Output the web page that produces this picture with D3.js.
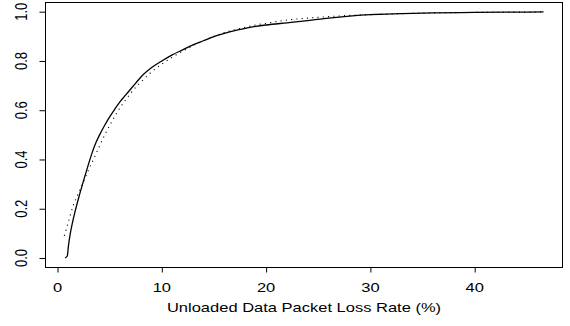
<!DOCTYPE html>
<html>
<head>
<meta charset="utf-8">
<script src="https://cdn.jsdelivr.net/npm/d3@7"></script>
<style>
  body { margin: 0; background: #fff; }
  text { font-family: "Liberation Sans", Arial, Helvetica, sans-serif; fill: #000; }
</style>
</head>
<body>
<script>
// observed distribution (solid)
const solidX = [0.72, 0.94, 1.04, 1.2, 1.42, 1.68, 2.06, 2.47, 2.95, 3.34, 3.7, 4.0, 4.5, 5.0, 5.5, 6.0, 6.5, 7.0, 7.5, 8, 9, 10, 11, 12, 13, 14, 15, 16, 17, 18, 19, 20, 22, 24, 26, 28, 30, 33, 36, 40, 43, 46.6];
const solidP = [0, 0.008, 0.046, 0.093, 0.141, 0.188, 0.249, 0.31, 0.378, 0.43, 0.47, 0.497, 0.537, 0.573, 0.605, 0.635, 0.66, 0.685, 0.71, 0.735, 0.772, 0.8, 0.825, 0.845, 0.865, 0.882, 0.899, 0.912, 0.923, 0.932, 0.94, 0.946, 0.955, 0.964, 0.974, 0.982, 0.988, 0.992, 0.995, 0.997, 0.998, 0.999];
// fitted distribution (dotted)
const dottedX = [0.65, 1.0, 1.5, 2, 2.5, 3, 3.5, 4, 4.5, 5, 5.5, 6, 6.5, 7, 7.5, 8, 9, 10, 11, 12, 13, 14, 15, 16, 17, 18, 19, 20, 22, 24, 26, 28, 30, 33, 36, 40, 43, 46.6];
const dottedP = [0.09, 0.14, 0.212, 0.262, 0.31, 0.36, 0.405, 0.452, 0.497, 0.538, 0.576, 0.61, 0.64, 0.668, 0.693, 0.715, 0.755, 0.787, 0.815, 0.84, 0.862, 0.882, 0.9, 0.915, 0.927, 0.937, 0.946, 0.953, 0.966, 0.974, 0.98, 0.985, 0.988, 0.992, 0.995, 0.997, 0.998, 0.999];

const xTicks = [0, 10, 20, 30, 40];
const yTicks = [0, 0.2, 0.4, 0.6, 0.8, 1.0];
const xTitle = "Unloaded Data Packet Loss Rate (%)";

const w = 570, h = 326;
const box = {left: 45.5, top: 2.5, right: 562.5, bottom: 267.5};
const stretch = 1.27; // text is wider than tall in the picture
const fs = 13;

const svg = d3.select("body")
  .append("svg")
  .attr("width", w)
  .attr("height", h);

const xScale = d3.scaleLinear().domain([0, 40]).range([57.5, 474.7]);
const yScale = d3.scaleLinear().domain([0, 1]).range([258, 11.7]);

// plot frame
svg.append("rect")
  .attr("x", box.left)
  .attr("y", box.top)
  .attr("width", box.right - box.left)
  .attr("height", box.bottom - box.top)
  .attr("fill", "none")
  .attr("stroke", "#000")
  .attr("stroke-width", 1);

// axes (ticks only, labels added below)
svg.append("g")
  .attr("transform", "translate(0," + box.bottom + ")")
  .call(d3.axisBottom(xScale).tickValues(xTicks).tickSize(5).tickFormat(""))
  .call(g => g.select(".domain").attr("d", "M" + xScale(0) + ",0H" + xScale(40)));

svg.append("g")
  .attr("transform", "translate(" + box.left + ",0)")
  .call(d3.axisLeft(yScale).tickValues(yTicks).tickSize(6).tickFormat(""))
  .call(g => g.select(".domain").attr("d", "M0," + yScale(0) + "V" + yScale(1)));

svg.selectAll(".xlab")
  .data(xTicks)
  .enter()
  .append("text")
  .attr("class", "xlab")
  .attr("transform", d => "translate(" + xScale(d) + ",292.3) scale(" + stretch + ",1)")
  .attr("text-anchor", "middle")
  .style("font-size", fs + "px")
  .text(d => d);

svg.selectAll(".ylab")
  .data(yTicks)
  .enter()
  .append("text")
  .attr("class", "ylab")
  .attr("transform", d => "translate(27.3," + yScale(d) + ") scale(" + stretch + ",1) rotate(-90)")
  .attr("text-anchor", "middle")
  .style("font-size", fs + "px")
  .text(d => d3.format(".1f")(d));

svg.append("text")
  .attr("transform", "translate(" + ((box.left + box.right) / 2) + ",312) scale(" + stretch + ",1)")
  .attr("text-anchor", "middle")
  .style("font-size", fs + "px")
  .text(xTitle);

// curves
const line = d3.line()
  .x(d => xScale(d[0]))
  .y(d => yScale(d[1]))
  .curve(d3.curveMonotoneX);

svg.append("path")
  .datum(dottedX.map((x, i) => [x, dottedP[i]]))
  .attr("d", line)
  .attr("fill", "none")
  .attr("stroke", "#000")
  .attr("stroke-width", 1.1)
  .attr("stroke-dasharray", "1.1,4.2");

svg.append("path")
  .datum(solidX.map((x, i) => [x, solidP[i]]))
  .attr("d", line)
  .attr("fill", "none")
  .attr("stroke", "#000")
  .attr("stroke-width", 1.3);
</script>
</body>
</html>
